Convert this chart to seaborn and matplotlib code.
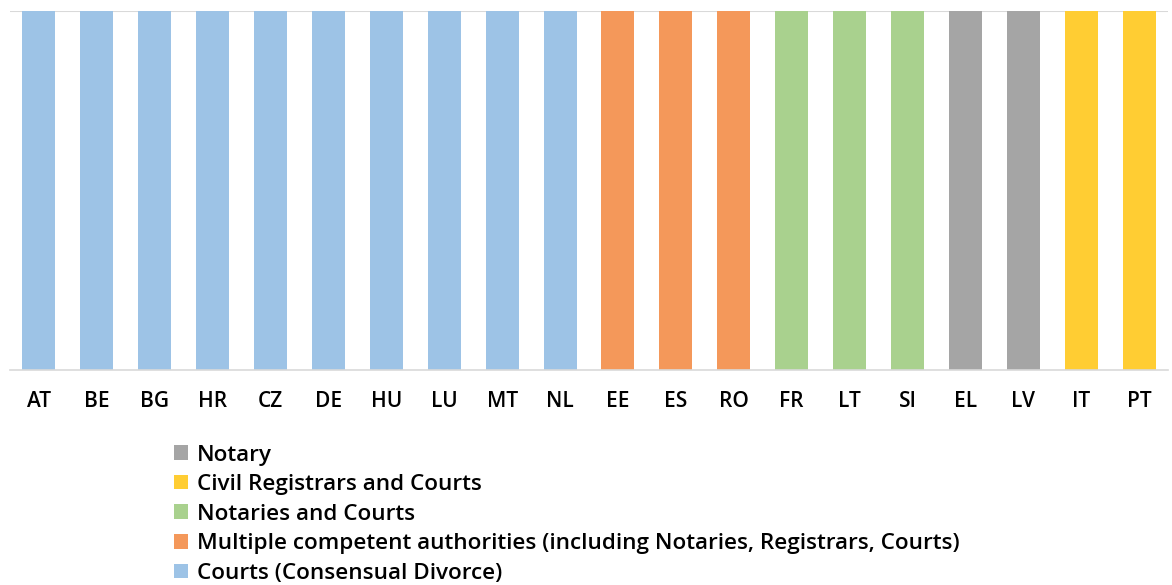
import matplotlib
matplotlib.use("Agg")
import matplotlib.pyplot as plt
import seaborn as sns
import pandas as pd
import numpy as np
from matplotlib.patches import Patch
from matplotlib.ticker import FixedLocator

countries = ["AT", "BE", "BG", "HR", "CZ", "DE", "HU", "LU", "MT", "NL",
             "EE", "ES", "RO", "FR", "LT", "SI", "EL", "LV", "IT", "PT"]
authority = (["Courts (Consensual Divorce)"] * 10
             + ["Multiple competent authorities (including Notaries, Registrars, Courts)"] * 3
             + ["Notaries and Courts"] * 3
             + ["Notary"] * 2
             + ["Civil Registrars and Courts"] * 2)
values = [1] * 20

legend_order = ["Notary", "Civil Registrars and Courts", "Notaries and Courts",
                "Multiple competent authorities (including Notaries, Registrars, Courts)",
                "Courts (Consensual Divorce)"]
palette = {
    "Courts (Consensual Divorce)": "#9DC3E6",
    "Multiple competent authorities (including Notaries, Registrars, Courts)": "#F4985A",
    "Notaries and Courts": "#A9D18E",
    "Notary": "#A5A5A5",
    "Civil Registrars and Courts": "#FFCD33",
}

df = pd.DataFrame({"country": countries, "authority": authority, "value": values})

sns.set_theme(style="white")
plt.rcParams['font.family'] = ['Open Sans', 'DejaVu Sans']
plt.rcParams['text.color'] = 'black'
plt.rcParams['xtick.color'] = 'black'
plt.rcParams['font.weight'] = 'semibold'

fig = plt.figure(figsize=(11.72, 5.85), dpi=100)
ax = fig.add_axes([10/1172, 1 - 370/585, 1158/1172, 359/585])

sns.barplot(data=df, x="country", y="value", hue="authority", palette=palette,
            dodge=False, width=0.57, ax=ax, legend=False, order=countries,
            saturation=1, edgecolor="none")

ax.set_ylim(0, 1)
ax.set_xlim(-0.5, len(countries) - 0.5)
ax.set_xlabel("")
ax.set_ylabel("")
ax.set_yticks([])
ax.axhline(1, color="#D9D9D9", lw=1.5, zorder=0)
for s in ["top", "right", "left"]:
    ax.spines[s].set_visible(False)
ax.spines["bottom"].set_color("#D9D9D9")
ax.spines["bottom"].set_linewidth(1.2)
ax.tick_params(axis="x", which="major", length=0, pad=15, labelsize=15, labelcolor="black")
ax.xaxis.set_minor_locator(FixedLocator(np.arange(-0.5, len(countries), 1.0)))
ax.tick_params(axis="x", which="minor", length=6, width=1.2, color="#D9D9D9", direction="out")

handles = [Patch(facecolor=palette[k], edgecolor="none") for k in legend_order]
fig.legend(handles, legend_order, loc="lower left", bbox_to_anchor=(172/1172, -1/585),
           frameon=False, fontsize=16.2, handlelength=0.62, handleheight=0.62,
           handletextpad=0.4, labelspacing=0.38, borderaxespad=0.0, borderpad=0.1)

fig.savefig("out.png", dpi=100)
